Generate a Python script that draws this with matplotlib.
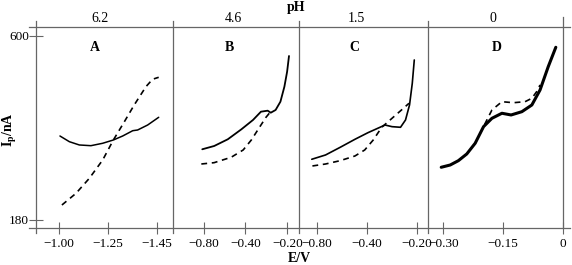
import matplotlib
matplotlib.use('Agg')
import matplotlib.pyplot as plt
import numpy as np

plt.rcParams['font.family'] = ['Liberation Serif', 'DejaVu Serif']
plt.rcParams['mathtext.fontset'] = 'custom'
plt.rcParams['mathtext.rm'] = 'Liberation Serif'
plt.rcParams['mathtext.bf'] = 'Liberation Serif:bold'

# pH of each panel and panel letters
ph_labels = ['6.2', '4.6', '1.5', '0']
panel_names = ['A', 'B', 'C', 'D']

# tick values (as printed) for every panel
tick_values = [[-1.00, -1.25, -1.45],
               [-0.80, -0.40, -0.20],
               [-0.80, -0.40, -0.20],
               [-0.30, -0.15, 0.0]]
tick_labels = [['\u22121.00', '\u22121.25', '\u22121.45'],
               ['\u22120.80', '\u22120.40', '\u22120.20'],
               ['\u22120.80', '\u22120.40', '\u22120.20'],
               ['\u22120.30', '\u22120.15', '0']]

# panel A
a_solid_E = [-1.005, -1.053, -1.104, -1.163, -1.223, -1.272, -1.310, -1.351, -1.371, -1.412, -1.457]
a_solid_I = [371.7, 358.7, 351.2, 349.6, 355.1, 362.6, 371.7, 383.8, 385.4, 396.8, 414.4]
a_dash_E = [-1.015, -1.087, -1.155, -1.223, -1.272, -1.317, -1.357, -1.405, -1.432, -1.457]
a_dash_I = [214.2, 240.9, 275.2, 316.9, 362.6, 404.4, 442.5, 484.3, 501.2, 505.7]

# panel B
b_solid_E = [-0.813, -0.699, -0.569, -0.439, -0.364, -0.326, -0.294, -0.279, -0.256, -0.233, -0.214, -0.201, -0.192]
b_solid_I = [341.4, 348.9, 364.2, 387.0, 408.3, 427.2, 429.5, 424.9, 431.1, 450.0, 484.3, 518.5, 554.3]
b_dash_E = [-0.822, -0.700, -0.537, -0.422, -0.372, -0.333, -0.302, -0.286]
b_dash_I = [307.8, 310.8, 323.1, 339.8, 362.6, 391.6, 414.4, 423.6]

# panel C
c_solid_E = [-0.839, -0.729, -0.612, -0.494, -0.395, -0.347, -0.327, -0.299, -0.265, -0.245, -0.229, -0.218, -0.210]
c_solid_I = [318.6, 328.4, 345.9, 364.2, 379.3, 391.6, 396.8, 393.0, 391.6, 408.3, 442.5, 492.0, 545.2]
c_dash_E = [-0.834, -0.729, -0.612, -0.494, -0.416, -0.374, -0.340, -0.299, -0.258, -0.231]
c_dash_I = [303.3, 307.8, 315.4, 326.1, 339.8, 362.6, 391.6, 412.1, 432.7, 446.4]

# panel D
d_solid_E = [-0.305, -0.2825, -0.262, -0.241, -0.220, -0.199, -0.178, -0.153, -0.130, -0.103, -0.078, -0.0575, -0.037, -0.018]
d_solid_I = [300.3, 305.5, 315.4, 330.7, 355.1, 393.0, 412.1, 423.6, 419.7, 427.2, 442.5, 476.7, 529.9, 574.2]
d_dash_E = [-0.220, -0.197, -0.178, -0.153, -0.124, -0.095, -0.078, -0.066, -0.0575]
d_dash_I = [355.1, 396.8, 431.1, 450.0, 447.7, 450.0, 457.8, 472.9, 488.2]

solids = [(a_solid_E, a_solid_I), (b_solid_E, b_solid_I), (c_solid_E, c_solid_I), (d_solid_E, d_solid_I)]
dashes = [(a_dash_E, a_dash_I), (b_dash_E, b_dash_I), (c_dash_E, c_dash_I), (d_dash_E, d_dash_I)]
solid_widths = [1.1, 1.3, 1.2, 2.2]


def tick_scale(ticks):
    # piecewise linear scale, the printed ticks sit equally spaced
    t = np.asarray(ticks, float)
    k = np.arange(len(t), dtype=float)
    tt = np.concatenate([[t[0] - 20 * (t[1] - t[0])], t, [t[-1] + 20 * (t[-1] - t[-2])]])
    kk = np.concatenate([[-20.0], k, [k[-1] + 20]])
    if tt[0] > tt[-1]:
        # keep the scale increasing, the axis gets flipped by its limits
        fx, fk = tt[::-1], -kk[::-1]
    else:
        fx, fk = tt, kk

    def fwd(x):
        return np.interp(x, fx, fk)

    def inv(u):
        return np.interp(u, fk, fx)

    def e_at(u):
        return np.interp(u, kk, tt)
    return fwd, inv, e_at


W, H = 572, 265
fig = plt.figure(figsize=(W / 100, H / 100), dpi=100)

edges = [36, 173, 299, 428, 563]
# position of the panel edges in tick units
u_limits = [(-0.469, 2.327), (-0.732, 2.279), (-0.353, 2.224), (-0.254, 2.0)]
ph_x = [0.467, 0.476, 0.442, 0.48]
letter_x = [0.43, 0.45, 0.426, 0.511]
top_px, bot_px = 27, 228
gray = '#666666'

axes = []
for i in range(4):
    x0 = edges[i] / W
    w = (edges[i + 1] - edges[i]) / W
    ax = fig.add_axes([x0, 1 - bot_px / H, w, (bot_px - top_px) / H])
    axes.append(ax)
    fwd, inv, e_at = tick_scale(tick_values[i])
    ax.set_xscale('function', functions=(fwd, inv))
    ax.set_xlim(e_at(u_limits[i][0]), e_at(u_limits[i][1]))
    ax.set_ylim(161.7, 620.5)

    E, I = solids[i]
    ax.plot(E, I, color='black', lw=solid_widths[i], solid_capstyle='round')
    E, I = dashes[i]
    ax.plot(E, I, color='black', lw=1.2, linestyle=(0, (3.5, 2.8)))

    for s in ax.spines.values():
        s.set_visible(False)
    ax.set_xticks(tick_values[i], tick_labels[i])
    ax.tick_params(axis='x', direction='inout', length=8, width=0.8, color=gray,
                   labelsize=9.5, pad=3.5)
    if i == 0:
        ax.set_yticks([180, 600], ['180', '600'])
        ax.tick_params(axis='y', direction='inout', length=10, width=0.8, color=gray,
                       labelsize=9.5, pad=0)
    else:
        ax.set_yticks([])

    # panel separator line, sticking out a little at the top
    ax.plot([0, 0], [-0.025, 1.03], transform=ax.transAxes, color=gray, lw=0.9, clip_on=False)
    if i == 3:
        ax.plot([1, 1], [0, 1.05], transform=ax.transAxes, color=gray, lw=0.9, clip_on=False)

    ax.text(ph_x[i], 1.012, ph_labels[i], transform=ax.transAxes, ha='center', va='bottom',
            fontsize=10)
    ax.text(letter_x[i], 0.896, panel_names[i], transform=ax.transAxes, ha='center', va='center',
            fontsize=10, fontweight='bold')

# top and bottom frame lines over all panels
for ypx in (top_px, bot_px):
    fig.add_artist(plt.Line2D([29 / W, 570 / W], [1 - ypx / H] * 2, transform=fig.transFigure,
                              color=gray, lw=0.9))

fig.text(296 / W, 1 - 7 / H, 'pH', ha='center', va='center', fontsize=10, fontweight='bold')
fig.text(299 / W, 1 - 258 / H, 'E/V', ha='center', va='center', fontsize=10, fontweight='bold')
fig.text(10 / W, 1 - 130 / H, r'$\mathbf{I_p}$/nA', ha='center', va='center', rotation=90,
         fontsize=10, fontweight='bold')

fig.savefig('out.png', dpi=100)
